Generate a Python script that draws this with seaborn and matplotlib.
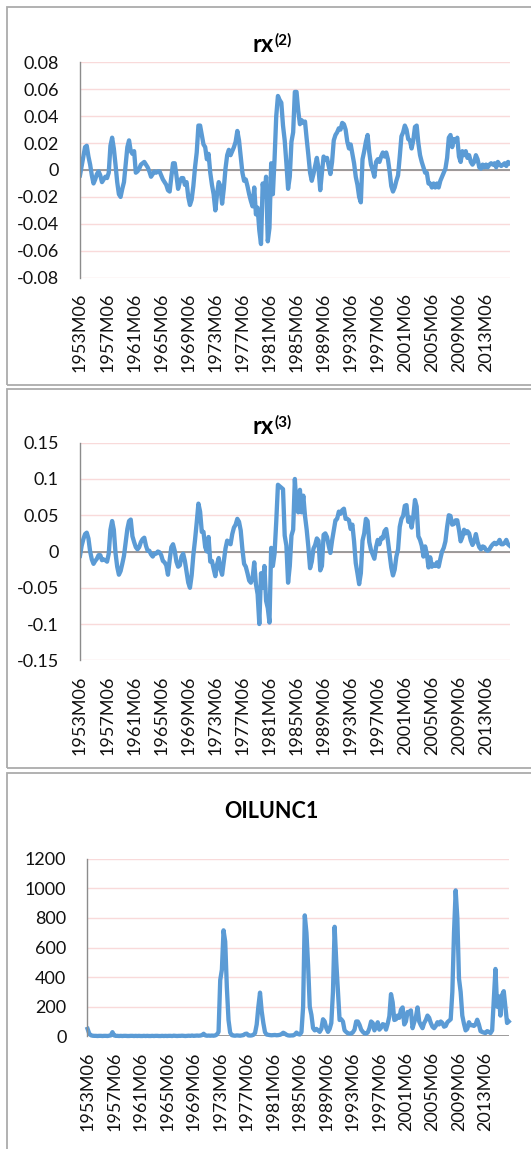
import numpy as np
import matplotlib
matplotlib.use("Agg")
import matplotlib.pyplot as plt
from matplotlib.patches import Rectangle
import seaborn as sns

# ---------------- data (quarterly readings, 1953M06 .. 2016M12) ----------------
step_months = 3

rx2 = [
    -0.004, 0.003, 0.010, 0.017, 0.018, 0.010, 0.004, -0.004, -0.010, -0.007,
    -0.003, -0.001, -0.004, -0.009, -0.007, -0.005, -0.006, -0.002, 0.018, 0.024,
    0.016, 0.004, -0.009, -0.018, -0.020, -0.014, -0.009, 0.004, 0.017, 0.022,
    0.014, 0.012, 0.014, -0.002, -0.001, 0.001, 0.004, 0.005, 0.006, 0.004,
    0.002, -0.001, -0.005, -0.003, -0.001, -0.002, -0.001, -0.001, -0.004, -0.007,
    -0.009, -0.011, -0.015, -0.016, -0.005, 0.005, 0.005, -0.004, -0.014, -0.009,
    -0.006, -0.006, -0.011, -0.009, -0.020, -0.026, -0.022, -0.012, 0.002, 0.013,
    0.033, 0.033, 0.026, 0.019, 0.017, 0.008, 0.012, -0.002, -0.011, -0.018,
    -0.030, -0.018, -0.009, -0.012, -0.025, -0.014, 0.001, 0.011, 0.015, 0.011,
    0.014, 0.017, 0.021, 0.029, 0.022, 0.010, -0.002, -0.008, -0.007, -0.012,
    -0.018, -0.023, -0.027, -0.013, -0.033, -0.028, -0.045, -0.055, -0.010, -0.020,
    -0.005, -0.053, -0.043, 0.005, -0.018, 0.008, 0.040, 0.055, 0.052, 0.050,
    0.033, 0.022, 0.005, -0.014, -0.005, 0.021, 0.028, 0.058, 0.058, 0.044,
    0.034, 0.037, 0.035, 0.036, 0.023, 0.011, -0.002, -0.008, -0.003, 0.003,
    0.009, 0.001, -0.015, -0.002, 0.010, 0.008, 0.009, 0.003, -0.003, 0.006,
    0.022, 0.026, 0.028, 0.031, 0.030, 0.035, 0.034, 0.030, 0.021, 0.016,
    0.019, 0.012, 0.005, -0.005, -0.011, -0.020, -0.024, 0.008, 0.014, 0.021,
    0.026, 0.013, 0.004, 0.000, -0.005, 0.006, 0.008, 0.006, 0.010, 0.013,
    0.010, 0.013, 0.008, -0.001, -0.012, -0.016, -0.013, -0.008, -0.004, 0.010,
    0.025, 0.028, 0.033, 0.030, 0.023, 0.022, 0.016, 0.022, 0.032, 0.033,
    0.020, 0.011, 0.006, 0.002, -0.002, -0.002, -0.010, -0.010, -0.013, -0.010,
    -0.013, -0.010, -0.013, -0.008, -0.005, -0.002, 0.001, 0.009, 0.024, 0.026,
    0.017, 0.023, 0.021, 0.024, 0.010, 0.006, 0.014, 0.011, 0.014, 0.009,
    0.011, 0.006, 0.004, 0.006, 0.011, 0.008, 0.002, 0.001, 0.004, 0.002,
    0.004, 0.002, 0.004, 0.005, 0.004, 0.005, 0.002, 0.006, 0.004, 0.003,
    0.004, 0.005, 0.003, 0.006, 0.005,
]

rx3 = [
    -0.006, 0.008, 0.017, 0.024, 0.026, 0.018, 0.000, -0.011, -0.017, -0.013,
    -0.010, -0.005, -0.005, -0.012, -0.011, -0.012, -0.014, -0.003, 0.030, 0.042,
    0.030, -0.002, -0.021, -0.032, -0.027, -0.017, -0.006, 0.012, 0.031, 0.042,
    0.044, 0.021, 0.013, 0.006, 0.003, 0.006, 0.013, 0.017, 0.019, 0.008,
    0.001, 0.001, -0.004, -0.007, -0.003, -0.003, 0.000, -0.001, -0.005, -0.013,
    -0.015, -0.019, -0.032, -0.012, 0.006, 0.010, 0.001, -0.014, -0.021, -0.019,
    -0.007, -0.003, -0.013, -0.028, -0.043, -0.050, -0.033, -0.005, 0.016, 0.040,
    0.066, 0.055, 0.027, 0.027, 0.006, 0.000, 0.020, -0.014, -0.013, -0.024,
    -0.034, -0.018, -0.009, -0.024, -0.032, -0.014, 0.004, 0.015, 0.012, 0.010,
    0.024, 0.033, 0.037, 0.045, 0.041, 0.029, 0.003, -0.017, -0.021, -0.030,
    -0.040, -0.043, -0.037, -0.015, -0.045, -0.059, -0.100, -0.030, -0.050, -0.020,
    -0.068, -0.078, -0.098, 0.005, -0.020, -0.003, 0.041, 0.092, 0.090, 0.088,
    0.086, 0.022, 0.008, -0.043, -0.020, 0.022, 0.030, 0.100, 0.060, 0.054,
    0.085, 0.054, 0.077, 0.049, 0.030, 0.006, -0.023, -0.014, 0.004, 0.009,
    0.018, 0.015, -0.026, -0.020, 0.023, 0.025, 0.020, 0.008, -0.002, 0.015,
    0.029, 0.043, 0.045, 0.055, 0.052, 0.057, 0.059, 0.045, 0.045, 0.043,
    0.031, 0.037, 0.014, -0.016, -0.030, -0.045, -0.030, 0.015, 0.025, 0.045,
    0.042, 0.013, 0.002, -0.004, -0.010, 0.006, 0.016, 0.010, 0.019, 0.018,
    0.028, 0.031, 0.015, -0.004, -0.022, -0.033, -0.025, -0.007, 0.003, 0.034,
    0.045, 0.049, 0.063, 0.064, 0.041, 0.047, 0.033, 0.048, 0.071, 0.062,
    0.021, 0.016, 0.008, -0.007, 0.007, -0.003, -0.022, -0.008, -0.021, -0.018,
    -0.020, -0.015, -0.021, -0.010, 0.000, 0.005, 0.014, 0.034, 0.050, 0.049,
    0.037, 0.038, 0.043, 0.043, 0.030, 0.014, 0.020, 0.030, 0.025, 0.028,
    0.025, 0.015, 0.009, 0.014, 0.024, 0.013, 0.006, 0.003, 0.007, 0.006,
    0.002, 0.001, 0.003, 0.007, 0.010, 0.012, 0.010, 0.012, 0.016, 0.010,
    0.010, 0.012, 0.016, 0.010, 0.008,
]

oilunc1 = [
    50, 18, 7, 4, 3, 3, 2, 3, 3, 2,
    3, 3, 2, 4, 6, 28, 6, 3, 3, 2,
    3, 2, 3, 3, 2, 2, 3, 3, 2, 3,
    2, 3, 2, 2, 3, 2, 3, 2, 2, 3,
    2, 3, 3, 2, 2, 3, 2, 3, 2, 3,
    3, 2, 4, 3, 2, 3, 3, 4, 3, 2,
    3, 4, 3, 5, 3, 4, 5, 4, 5, 8,
    17, 6, 4, 5, 4, 5, 4, 6, 12, 30,
    380, 450, 716, 640, 330, 110, 25, 8, 5, 4,
    6, 5, 4, 6, 8, 16, 18, 6, 5, 6,
    10, 22, 80, 200, 295, 170, 90, 28, 12, 10,
    8, 7, 8, 9, 7, 8, 10, 15, 24, 18,
    10, 6, 5, 6, 6, 12, 25, 15, 12, 28,
    200, 817, 700, 480, 200, 145, 55, 40, 50, 40,
    30, 50, 115, 100, 55, 30, 50, 90, 300, 740,
    500, 310, 110, 115, 100, 40, 29, 20, 18, 18,
    27, 45, 100, 100, 78, 45, 30, 20, 18, 26,
    55, 100, 90, 40, 65, 95, 45, 58, 82, 78,
    45, 85, 135, 285, 230, 110, 115, 140, 125, 180,
    195, 80, 100, 164, 164, 175, 55, 95, 130, 195,
    100, 75, 55, 90, 110, 140, 125, 90, 65, 55,
    70, 95, 80, 100, 90, 65, 70, 95, 105, 115,
    300, 700, 986, 800, 390, 300, 140, 85, 40, 50,
    95, 75, 75, 70, 80, 112, 80, 35, 29, 25,
    22, 35, 30, 22, 40, 250, 455, 200, 270, 140,
    280, 305, 200, 90, 100,
]

x_tick_labels = ["1953M06", "1957M06", "1961M06", "1965M06", "1969M06",
                 "1973M06", "1977M06", "1981M06", "1985M06", "1989M06",
                 "1993M06", "1997M06", "2001M06", "2005M06", "2009M06",
                 "2013M06"]
rx2_ticks = [-0.08, -0.06, -0.04, -0.02, 0, 0.02, 0.04, 0.06, 0.08]
rx2_labels = ["-0.08", "-0.06", "-0.04", "-0.02", "0", "0.02", "0.04", "0.06", "0.08"]
rx3_ticks = [-0.15, -0.1, -0.05, 0, 0.05, 0.1, 0.15]
rx3_labels = ["-0.15", "-0.1", "-0.05", "0", "0.05", "0.1", "0.15"]
oil_ticks = [0, 200, 400, 600, 800, 1000, 1200]
oil_labels = ["0", "200", "400", "600", "800", "1000", "1200"]

# ---------------- styling ----------------
plt.rcParams['font.family'] = ['Lato', 'DejaVu Sans']
LINE_C = '#5B9BD5'
GRID_C = '#F9DADA'
AXIS_C = '#8C8C8C'
TEXT_C = '#111111'
BORDER_C = '#ABABAB'
LW = 3.1

W, H = 531, 1149
fig = plt.figure(figsize=(W / 100, H / 100), dpi=100)
fig.patch.set_facecolor('white')


def fx(x):
    return x / W


def fy(y):
    return 1 - y / H


def add_ax(x0, x1, ytop, ybot):
    return fig.add_axes([fx(x0), fy(ybot), (x1 - x0) / W, (ybot - ytop) / H])


# chart-area borders (cut at right edge like the reference)
for (top, bot) in [(7, 385), (388.5, 768), (772.7, 1165)]:
    fig.add_artist(Rectangle((fx(7), fy(bot)), (545 - 7) / W, (bot - top) / H,
                             transform=fig.transFigure, fill=False,
                             edgecolor=BORDER_C, linewidth=1.3))

months = np.arange(len(rx2)) * step_months
n_months = months[-1] + 1
tick_pos = np.arange(len(x_tick_labels)) * 48


def style(ax, yticks, ylabels):
    ax.set_xlim(-0.5, n_months - 0.5)
    ax.set_ylim(yticks[0], yticks[-1])
    ax.set_yticks(yticks)
    ax.set_yticklabels(ylabels)
    ax.set_xticks(tick_pos)
    ax.set_xticklabels(x_tick_labels, rotation=90)
    ax.tick_params(axis='both', length=0, labelsize=13, colors=TEXT_C)
    ax.tick_params(axis='y', pad=15)
    ax.tick_params(axis='x', pad=11)
    for s in ['top', 'right', 'bottom']:
        ax.spines[s].set_visible(False)
    ax.spines['left'].set_color(AXIS_C)
    ax.spines['left'].set_linewidth(1.0)
    ax.yaxis.grid(True, color=GRID_C, linewidth=1.0)
    ax.xaxis.grid(False)
    ax.set_axisbelow(True)
    ax.axhline(0, color=AXIS_C, linewidth=1.2, zorder=1.5)
    ax.set_xlabel('')
    ax.set_ylabel('')
    ax.patch.set_alpha(0)


ax1 = add_ax(79.7, 510, 62.3, 277.7)
sns.lineplot(x=months, y=rx2, ax=ax1, color=LINE_C, linewidth=LW, estimator=None)
style(ax1, rx2_ticks, rx2_labels)

ax2 = add_ax(79.7, 510, 442.7, 660.3)
sns.lineplot(x=months, y=rx3, ax=ax2, color=LINE_C, linewidth=LW, estimator=None)
style(ax2, rx3_ticks, rx3_labels)

ax3 = add_ax(87.3, 509, 858.7, 1036.3)
sns.lineplot(x=months, y=oilunc1, ax=ax3, color=LINE_C, linewidth=LW, estimator=None)
style(ax3, oil_ticks, oil_labels)
for ln in ax3.lines:
    if ln.get_color() == LINE_C:
        ln.set_clip_on(False)


# titles
def sup_title(base_y, sup_y, sup):
    fig.text(fx(273.5), fy(base_y), "rx", ha='right', va='baseline',
             fontsize=17, fontweight='bold', color='black')
    fig.text(fx(274.5), fy(sup_y), sup, ha='left', va='baseline',
             fontsize=11, fontweight='bold', color='black')


sup_title(52.5, 44.5, "(2)")
sup_title(434, 426.5, "(3)")
fig.text(fx(271), fy(818), "OILUNC1", ha='center', va='baseline',
         fontsize=15.5, fontweight='bold', color='black')

fig.savefig("out.png", dpi=100, facecolor='white')
